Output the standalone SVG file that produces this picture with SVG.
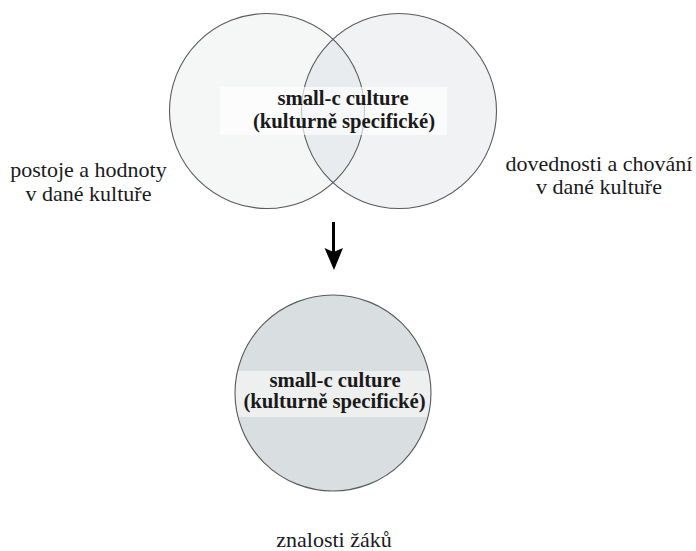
<svg xmlns="http://www.w3.org/2000/svg" width="696" height="551" viewBox="0 0 696 551">
  <style>
    .ring { stroke: #5a5a5a; stroke-width: 1.1; }
    .title { font-family: "Liberation Serif", "Times New Roman", serif; font-weight: bold; font-size: 20.7px; fill: #1a1a1a; text-anchor: middle; }
    .label { font-family: "Liberation Serif", "Times New Roman", serif; font-size: 22px; fill: #1a1a1a; text-anchor: middle; }
  </style>
  <defs>
    <clipPath id="leftClip">
      <circle cx="267" cy="111" r="97.5"/>
    </clipPath>
    <clipPath id="bottomClip">
      <circle cx="333" cy="393" r="98"/>
    </clipPath>
  </defs>
  <rect width="696" height="551" fill="#ffffff"/>

  <!-- Venn diagram: two cultural components -->
  <g id="venn">
    <g id="circle-left">
      <circle cx="267" cy="111" r="97.5" fill="#f5f6f6"/>
    </g>
    <g id="circle-right">
      <circle cx="399" cy="111" r="97.5" fill="#f0f2f3"/>
    </g>
    <!-- overlap lens -->
    <circle cx="399" cy="111" r="97.5" fill="#e8ecee" clip-path="url(#leftClip)"/>
    <circle class="ring" cx="267" cy="111" r="97.5" fill="none"/>
    <circle class="ring" cx="399" cy="111" r="97.5" fill="none"/>
    <g id="label-top">
      <rect x="220" y="87" width="227" height="48" fill="#ffffff" fill-opacity="0.65"/>
      <text class="title" x="343" y="104.5">small-c culture</text>
      <text class="title" x="344" y="127.5">(kulturně specifické)</text>
    </g>
  </g>

  <g id="label-left">
    <text class="label" x="88.5" y="176.5">postoje a hodnoty</text>
    <text class="label" x="88.5" y="201">v dané kultuře</text>
  </g>
  <g id="label-right">
    <text class="label" x="599" y="170.5">dovednosti a chování</text>
    <text class="label" x="599" y="194">v dané kultuře</text>
  </g>

  <!-- connector -->
  <g id="connectors">
    <line x1="333.5" y1="222" x2="333.5" y2="252" stroke="#000000" stroke-width="3"/>
    <path d="M324.5 248 L333.5 252 L343 248 L334 270 Z" fill="#000000"/>
  </g>

  <!-- resulting knowledge -->
  <g id="circle-bottom">
    <circle cx="333" cy="393" r="98" fill="#d9dfe0"/>
    <rect x="230" y="371" width="210" height="46" fill="#eef0f0" clip-path="url(#bottomClip)"/>
    <circle class="ring" cx="333" cy="393" r="98" fill="none"/>
    <text class="title" x="335" y="387">small-c culture</text>
    <text class="title" x="334.5" y="408">(kulturně specifické)</text>
  </g>

  <g id="label-bottom">
    <text class="label" x="334" y="546.5">znalosti žáků</text>
  </g>
</svg>
